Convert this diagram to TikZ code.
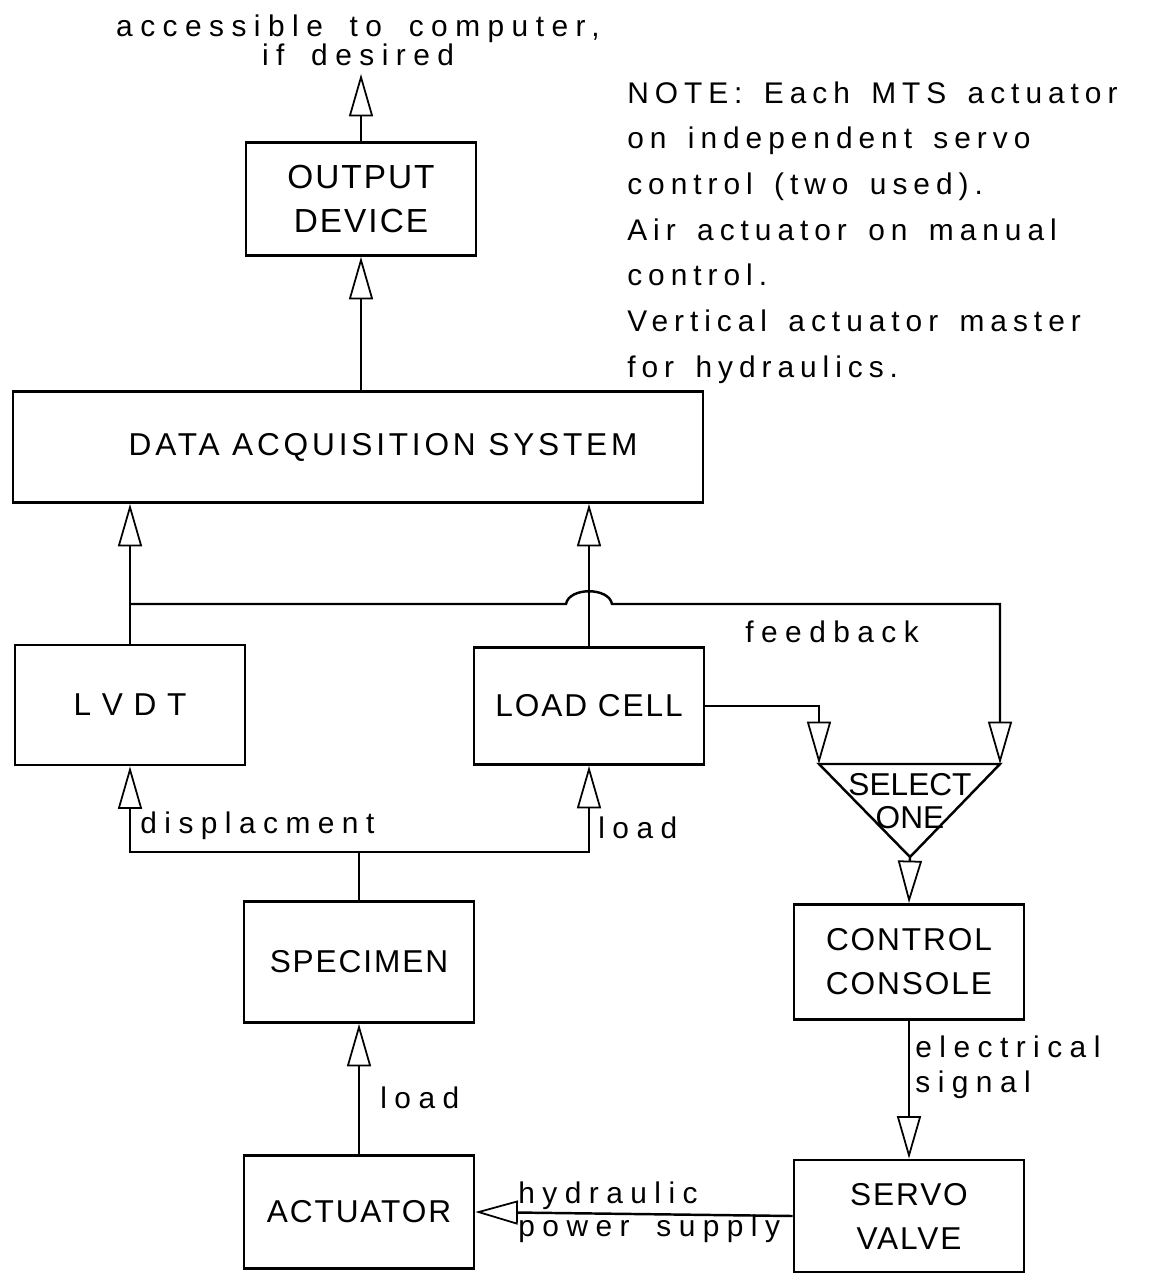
\documentclass[tikz,border=0pt]{standalone}
\usepackage{fontspec}
\usetikzlibrary{arrows.meta}
\newfontfamily\capsfont[LetterSpace=6]{Liberation Sans}
\newfontfamily\widecaps[LetterSpace=12]{Liberation Sans}
\newfontfamily\wordfont[LetterSpace=25,WordSpace=1.7]{Liberation Sans}
\newfontfamily\notefont[LetterSpace=20,WordSpace=1.5]{Liberation Sans}
\newfontfamily\selfont{Liberation Sans}
\tikzset{
  blk/.style={draw,line width=1.6pt,minimum width=4.6cm,minimum height=2.3cm,
    align=center,inner sep=0pt,font=\capsfont\fontsize{18}{25}\selectfont},
  lbl/.style={inner sep=0pt,align=left,font=\wordfont\fontsize{17}{19}\selectfont},
  conn/.style={line width=1.4pt,->}
}

\begin{document}
\begin{tikzpicture}[x=0.02cm,y=-0.02cm,>={Triangle[open,length=8.5mm,width=4.8mm,line width=1pt]}]
\useasboundingbox (0,0) rectangle (1160,1278);
% boxes
\node[blk,minimum height=2.26cm,font=\capsfont\fontsize{19}{25}\selectfont] (out) at (361,199) {OUTPUT\\DEVICE};
\node[blk,minimum width=13.8cm,minimum height=2.22cm,font=\widecaps\fontsize{18}{25}\selectfont] (das) at (358,447) {\hspace*{1cm}DATA ACQUISITION SYSTEM};
\node[blk,minimum height=2.4cm] (lvdt) at (130,705) {L V D T};
\node[blk,minimum height=2.34cm] (cell) at (589,706) {LOAD CELL};
\node[blk,minimum height=2.42cm] (spec) at (359,962) {SPECIMEN};
\node[blk,minimum height=2.26cm] (act) at (359,1212) {ACTUATOR};
\node[blk] (ccon) at (909,962) {CONTROL\\CONSOLE};
\node[blk,minimum height=2.24cm] (servo) at (909,1216) {SERVO\\VALVE};
% selector
\coordinate (selL) at (819,764);
\coordinate (selR) at (1000,764);
\coordinate (selB) at (910,857);
\draw[line width=1.4pt] (selL) -- (selR) -- (selB) -- cycle;
\node[inner sep=0pt,align=center,font=\selfont\fontsize{18}{19}\selectfont] (sel) at (910,801) {SELECT\\ONE};
% texts
\coordinate (desired) at (361,74);
\node[lbl,align=center,font=\wordfont\fontsize{17}{16.5}\selectfont] (acc) at (358,40) {accessible to computer,\\if desired};
\node[inner sep=0pt,align=left,anchor=north west,font=\notefont\fontsize{17}{26}\selectfont] (note) at (627,81)
  {NOTE: Each MTS actuator\\on independent servo\\control (two used).\\Air actuator on manual\\control.\\Vertical actuator master\\for hydraulics.};
% connectors
\draw[conn] (out.north) -- (desired);
\draw[conn] (out.south |- das.north) -- (out.south);
\draw[conn] (lvdt.north) -- (lvdt.north |- das.south);
\draw[conn] (cell.north) -- (cell.north |- das.south);
\coordinate (fbJ) at (cell.north |- 0,604);
\draw[conn] (lvdt.north |- fbJ) -- ([xshift=-0.46cm]fbJ)
  .. controls ([xshift=-0.4cm,yshift=0.34cm]fbJ) and ([xshift=0.4cm,yshift=0.34cm]fbJ) .. ([xshift=0.46cm]fbJ)
  -- (fbJ -| selR) -- (selR);
\draw[conn] (cell.east) -| (selL);
\draw[conn] (selB) -- (ccon.north);
\draw[conn] (ccon.south) -- (servo.north);
\draw[conn] (servo.west) -- (act.east);
\draw[conn] (act.north) -- (spec.south);
\coordinate (split) at (spec.north |- 0,852);
\draw[line width=1.4pt] (spec.north) -- (split);
\draw[conn] (split) -| (lvdt.south);
\draw[conn] (split) -| (cell.south);
% labels
\node[lbl,anchor=west] (fbl) at (745,632) {feedback};
\node[lbl,anchor=west] (dspl) at (140,826) {displacment};
\node[lbl,anchor=west] (ldc) at (598,828) {load};
\node[lbl,anchor=west] (lda) at (380,1098) {load};
\node[lbl,anchor=west,font=\wordfont\fontsize{17}{20}\selectfont] (elec) at (915,1067) {electrical\\signal};
\node[lbl,anchor=west,font=\wordfont\fontsize{17}{19}\selectfont] (hyd) at (518,1212) {hydraulic\\power supply};
\end{tikzpicture}
\end{document}
